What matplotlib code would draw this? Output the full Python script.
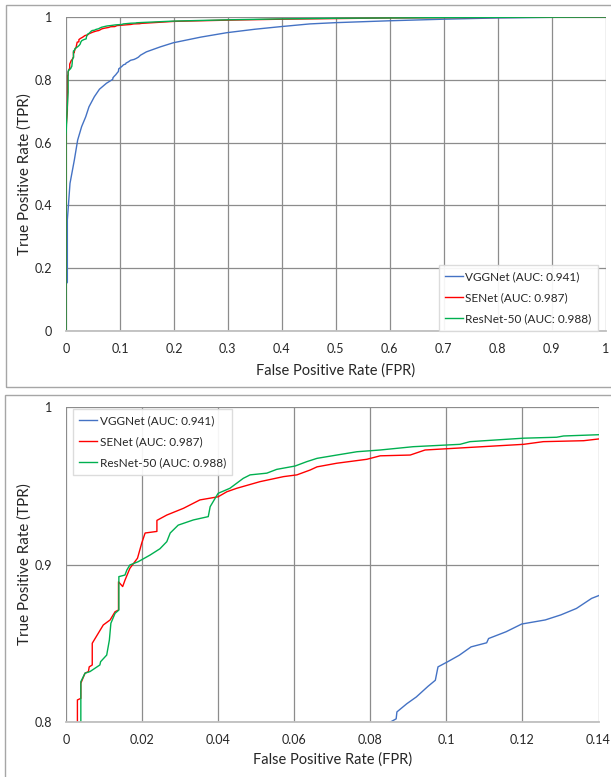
import matplotlib
matplotlib.use("Agg")
import matplotlib.pyplot as plt
from matplotlib.patches import Rectangle

plt.rcParams['font.family'] = ['Lato', 'DejaVu Sans']

# ---------------- data ----------------
vgg_fpr = [0, 0, 0.0025, 0.0025, 0.0043, 0.0074, 0.0155, 0.0216, 0.029, 0.0365, 0.0426,
           0.0525, 0.062, 0.075, 0.0853, 0.0868, 0.087, 0.0896, 0.0921, 0.0952, 0.0971,
           0.0978, 0.1003, 0.1034, 0.1065, 0.1106, 0.1111, 0.1157, 0.1198, 0.126, 0.1301,
           0.1342, 0.1382, 0.14, 0.149, 0.175, 0.199, 0.25, 0.298, 0.35, 0.396, 0.452,
           0.5, 0.6, 0.7, 0.8, 0.9, 1.0]
vgg_tpr = [0, 0.15, 0.155, 0.354, 0.396, 0.47, 0.545, 0.608, 0.651, 0.682, 0.714,
           0.746, 0.77, 0.789, 0.80, 0.802, 0.8064, 0.8116, 0.8159, 0.8227, 0.8265,
           0.835, 0.8382, 0.8424, 0.8477, 0.8503, 0.853, 0.8573, 0.8622, 0.8648, 0.868,
           0.8721, 0.8785, 0.8802, 0.889, 0.905, 0.918, 0.936, 0.950, 0.961, 0.969, 0.978,
           0.982, 0.988, 0.993, 0.997, 0.999, 1.0]

senet_fpr = [0, 0, 0.0025, 0.003, 0.003, 0.0039, 0.0039, 0.005, 0.0059, 0.0061, 0.0069,
             0.0069, 0.0098, 0.0116, 0.0129, 0.0138, 0.0138, 0.0149, 0.0155, 0.0168, 0.0188,
             0.0199, 0.0208, 0.0239, 0.0239, 0.0265, 0.0309, 0.0352, 0.040, 0.0423, 0.0449,
             0.051, 0.0572, 0.0607, 0.0642, 0.066, 0.0712, 0.0791, 0.0826, 0.0905, 0.0944,
             0.1001, 0.1203, 0.1255, 0.1361, 0.14, 0.2, 0.3, 0.4, 0.5, 0.6, 0.7, 0.85, 1.0]
senet_tpr = [0, 0.646, 0.70, 0.78, 0.814, 0.815, 0.8246, 0.831, 0.832, 0.835, 0.8362,
             0.85, 0.8616, 0.8648, 0.870, 0.8711, 0.8890, 0.886, 0.890, 0.8976, 0.904,
             0.9135, 0.92, 0.921, 0.928, 0.9314, 0.9357, 0.941, 0.943, 0.9462, 0.9484,
             0.9526, 0.9558, 0.9569, 0.96, 0.962, 0.9643, 0.9668, 0.969, 0.9695, 0.9727,
             0.9735, 0.9763, 0.978, 0.9786, 0.9797, 0.986, 0.990, 0.993, 0.995, 0.997, 0.998, 0.999, 1.0]

resnet_fpr = [0, 0, 0.002, 0.0039, 0.0039, 0.005, 0.0063, 0.0089, 0.0091, 0.0107, 0.0114,
              0.0118, 0.0129, 0.0139, 0.0139, 0.0155, 0.016, 0.0168, 0.019, 0.0221, 0.0247,
              0.0265, 0.0274, 0.0295, 0.0335, 0.0374, 0.0379, 0.0392, 0.040, 0.0431, 0.0466,
              0.0484, 0.0528, 0.0554, 0.0602, 0.0633, 0.066, 0.0712, 0.0765, 0.0826, 0.0913,
              0.1036, 0.1062, 0.1203, 0.129, 0.1308, 0.14, 0.2, 0.3, 0.4, 0.5, 0.6, 0.8, 1.0]
resnet_tpr = [0, 0.62, 0.70, 0.76, 0.8256, 0.831, 0.832, 0.8362, 0.8383, 0.8425, 0.852,
              0.8627, 0.869, 0.8711, 0.8923, 0.8933, 0.8965, 0.8997, 0.9018, 0.906, 0.910,
              0.9145, 0.92, 0.925, 0.9283, 0.9304, 0.9367, 0.942, 0.9452, 0.9484, 0.9547,
              0.9569, 0.958, 0.9604, 0.9625, 0.9653, 0.9674, 0.9695, 0.9716, 0.9727, 0.9748,
              0.9763, 0.978, 0.9802, 0.9808, 0.9816, 0.9824, 0.987, 0.991, 0.994, 0.996, 0.997, 0.999, 1.0]

labels = ["VGGNet (AUC: 0.941)", "SENet (AUC: 0.987)", "ResNet-50 (AUC: 0.988)"]
colors = ["#4472C4", "#FF0000", "#00B050"]

top_xticks = [0, 0.1, 0.2, 0.3, 0.4, 0.5, 0.6, 0.7, 0.8, 0.9, 1.0]
top_xlabels = ["0", "0.1", "0.2", "0.3", "0.4", "0.5", "0.6", "0.7", "0.8", "0.9", "1"]
top_yticks = [0, 0.2, 0.4, 0.6, 0.8, 1.0]
top_ylabels = ["0", "0.2", "0.4", "0.6", "0.8", "1"]
bot_xticks = [0, 0.02, 0.04, 0.06, 0.08, 0.10, 0.12, 0.14]
bot_xlabels = ["0", "0.02", "0.04", "0.06", "0.08", "0.1", "0.12", "0.14"]
bot_yticks = [0.8, 0.9, 1.0]
bot_ylabels = ["0.8", "0.9", "1"]

# ---------------- figure ----------------
W, H = 611, 777
fig = plt.figure(figsize=(W / 100, H / 100), dpi=100)

def fx(px):
    return px / W

def fy(py):
    return 1 - py / H

# panel frames
fig.patches.append(Rectangle((fx(6), fy(387)), fx(620), fy(5) - fy(387), transform=fig.transFigure,
                             fill=False, edgecolor="#a6a6a6", linewidth=1.0))
fig.patches.append(Rectangle((fx(5), fy(790)), fx(620), fy(395) - fy(790), transform=fig.transFigure,
                             fill=False, edgecolor="#a6a6a6", linewidth=1.0))

ax1 = fig.add_axes([fx(66), fy(331), fx(605.5) - fx(66), fy(17) - fy(331)])
ax2 = fig.add_axes([fx(66), fy(722), fx(598.5) - fx(66), fy(407) - fy(722)])

series = [(vgg_fpr, vgg_tpr), (senet_fpr, senet_tpr), (resnet_fpr, resnet_tpr)]

def style(ax, xt, xl, yt, yl, xlim, ylim, xpad):
    for (x, y), c, lab in zip(series, colors, labels):
        ax.plot(x, y, color=c, linewidth=1.0, label=lab)
    ax.set_xlim(*xlim)
    ax.set_ylim(*ylim)
    ax.set_xticks(xt)
    ax.set_xticklabels(xl)
    ax.set_yticks(yt)
    ax.set_yticklabels(yl)
    ax.tick_params(length=0, labelsize=9, colors="#262626", pad=9)
    ax.tick_params(axis='y', pad=10)
    ax.grid(True, color="#8c8c8c", linewidth=0.9)
    ax.set_axisbelow(True)
    for s in ["top", "right", "left"]:
        ax.spines[s].set_visible(False)
    ax.spines["bottom"].set_color("#bfbfbf")
    ax.spines["bottom"].set_linewidth(1.3)
    ax.set_xlabel("False Positive Rate (FPR)", fontsize=10.5, color="#262626", labelpad=xpad)
    ax.set_ylabel("True Positive Rate (TPR)", fontsize=11, color="#262626", labelpad=2)

style(ax1, top_xticks, top_xlabels, top_yticks, top_ylabels, (0, 1), (0, 1), 6)
style(ax2, bot_xticks, bot_xlabels, bot_yticks, bot_ylabels, (0, 0.14), (0.8, 1.0), 4)

leg_kw = dict(fontsize=8.5, frameon=True, fancybox=False, handlelength=1.5, handletextpad=0.2,
              labelspacing=0.85, borderpad=0.55, borderaxespad=0, bbox_transform=fig.transFigure)
l1 = ax1.legend(loc="lower right", bbox_to_anchor=(fx(598), fy(331)), **leg_kw)
l2 = ax2.legend(loc="upper left", bbox_to_anchor=(fx(73), fy(409)), **leg_kw)
for lg in (l1, l2):
    fr = lg.get_frame()
    fr.set_edgecolor("#d9d9d9")
    fr.set_linewidth(1.0)
    fr.set_alpha(0.92)
    for t in lg.get_texts():
        t.set_color("#262626")

fig.savefig("out.png", dpi=100)
